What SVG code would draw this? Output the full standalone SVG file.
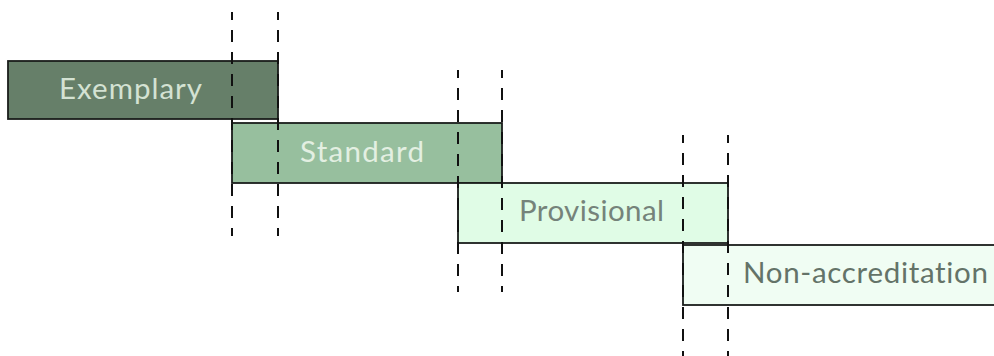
<svg xmlns="http://www.w3.org/2000/svg" width="994" height="356" viewBox="0 0 994 356">
<style>
.box{stroke:#1a1d1b;stroke-width:1.8}
.lbl{font-family:Lato,"Noto Sans","Liberation Sans",sans-serif;font-size:29.5px;font-weight:400;font-variant-ligatures:none}
.dash{stroke:#111;stroke-width:2;stroke-dasharray:12 10;stroke-dashoffset:4;fill:none}
</style>
<rect width="994" height="356" fill="#ffffff"/>
<g id="exemplary">
<rect class="box" x="8" y="61" width="270" height="58" fill="#667f69"/>
<text class="lbl" x="59" y="99" fill="#d4e2d3" textLength="143">Exemplary</text>
</g>
<g id="standard">
<rect class="box" x="232" y="123" width="270" height="60" fill="#97bf9e"/>
<text class="lbl" x="300" y="162" fill="#e3efe2" textLength="124">Standard</text>
</g>
<g id="provisional">
<rect class="box" x="458" y="183" width="270" height="60" fill="#e0fce6"/>
<text class="lbl" x="519" y="221" fill="#75837a" textLength="145">Provisional</text>
</g>
<g id="non-accreditation">
<rect class="box" x="683" y="245" width="320" height="60" fill="#f0fdf3"/>
<text class="lbl" x="743" y="283" fill="#647368" textLength="245">Non-accreditation</text>
</g>
<g id="connectors">
<line class="dash" x1="232" y1="12" x2="232" y2="236"/>
<line class="dash" x1="278" y1="12" x2="278" y2="236"/>
<line class="dash" x1="458" y1="70" x2="458" y2="292"/>
<line class="dash" x1="502" y1="70" x2="502" y2="292"/>
<line class="dash" x1="683" y1="135" x2="683" y2="356"/>
<line class="dash" x1="728" y1="135" x2="728" y2="356"/>
</g>
</svg>
